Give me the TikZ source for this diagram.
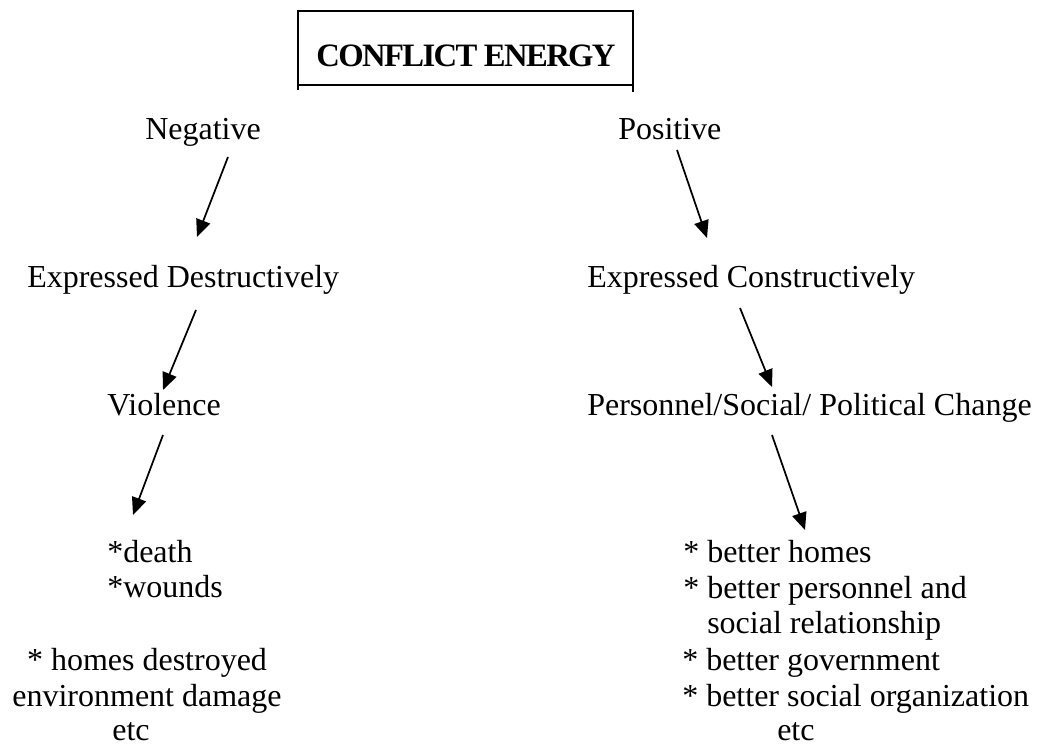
\documentclass[tikz,border=0pt]{standalone}
\usepackage{fontspec}
\setmainfont{Liberation Serif}
\usetikzlibrary{arrows.meta}
\def\txtsize{24}
\tikzset{txt/.style={anchor=base west, inner sep=0pt, font=\fontsize{\txtsize}{28}\selectfont}}
\tikzset{ctxt/.style={txt, anchor=base}}
\tikzset{boxline/.style={line width=1.2pt}}
\tikzset{flow/.style={line width=1.3pt, -{Triangle[length=13pt,width=11pt]}}}

\begin{document}
\begin{tikzpicture}[x=0.75pt, y=-0.75pt]
\useasboundingbox (0,0) rectangle (1047,749);
\node (title) [ctxt, font=\fontsize{24.5}{28}\selectfont\bfseries\addfontfeature{LetterSpace=-5}] at (466,67) {CONFLICT ENERGY};
\draw[boxline] (298,90) -- (298,11) -- (633,11) -- (633,92);
\draw[boxline] (298,85) -- (633,85);

\node (neg) [txt] at (145,140) {Negative};
\node (pos) [txt] at (618,140) {Positive};
\node (destr) [txt] at (27,287) {Expressed Destructively};
\node (constr) [txt] at (587,287) {Expressed Constructively};
\node (viol) [txt] at (107,415) {Violence};
\node (change) [txt] at (587,415) {Personnel/Social/ Political Change};

\node (death) [txt] at (107,562) {*death};
\node (wounds) [txt] at (107,597) {*wounds};
\node (homesd) [ctxt] at (147,670) {* homes destroyed};
\node (envd) [ctxt] at (147,706) {environment damage};
\node (etcl) [ctxt] at (131,740) {etc};

\node (homes) [txt] at (683,562) {* better homes};
\node (pers) [txt] at (683,598) {* better personnel and};
\node (rel) [txt] at (707,633) {social relationship};
\node (gov) [txt] at (682,670) {* better government};
\node (org) [txt] at (682,706) {* better social organization};
\node (etcr) [txt] at (777,740) {etc};

\coordinate (a1) at (228,157);
\coordinate (b1) at (197,237);
\coordinate (a2) at (677,150);
\coordinate (b2) at (707,238);
\coordinate (a3) at (196,310);
\coordinate (b3) at (163,390);
\coordinate (a4) at (740,308);
\coordinate (b4) at (772,387);
\coordinate (a5) at (163,435);
\coordinate (b5) at (133,515);
\coordinate (a6) at (772,435);
\coordinate (b6) at (805,530);

\draw[flow] (a1) to (b1);
\draw[flow] (a2) to (b2);
\draw[flow] (a3) to (b3);
\draw[flow] (a4) to (b4);
\draw[flow] (a5) to (b5);
\draw[flow] (a6) to (b6);
\end{tikzpicture}
\end{document}
